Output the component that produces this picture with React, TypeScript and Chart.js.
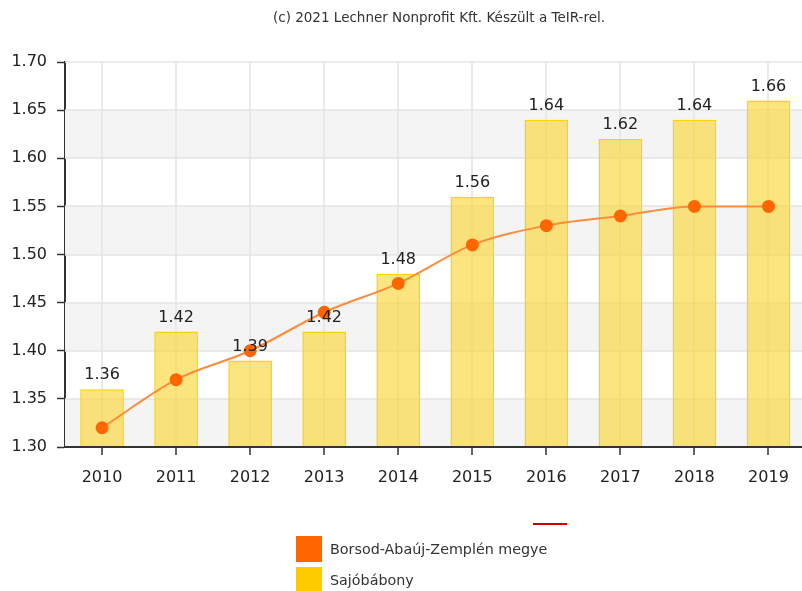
import React, { useEffect, useRef } from "react";
import { Chart, registerables } from "chart.js";

Chart.register(...registerables);

const categories = ["2010", "2011", "2012", "2013", "2014", "2015", "2016", "2017", "2018", "2019"];
const barValues = [1.36, 1.42, 1.39, 1.42, 1.48, 1.56, 1.64, 1.62, 1.64, 1.66];
const lineValues = [1.32, 1.37, 1.4, 1.44, 1.47, 1.51, 1.53, 1.54, 1.55, 1.55];
const barLabel = "Sajóbábony";
const lineLabel = "Borsod-Abaúj-Zemplén megye";
const titleText = "(c) 2021 Lechner Nonprofit Kft. Készült a TeIR-rel.";
const bandRanges = [[1.3, 1.35], [1.4, 1.45], [1.5, 1.55], [1.6, 1.65]];

const FONT = "'DejaVu Sans', Verdana, sans-serif";

const decorPlugin = {
  id: "decor",
  beforeDatasetsDraw(chart: any) {
    const { ctx, chartArea, scales } = chart;
    const y = scales.y;
    ctx.save();
    ctx.fillStyle = "#f4f4f4";
    for (const [a, b] of bandRanges) {
      const y1 = y.getPixelForValue(b);
      const y2 = y.getPixelForValue(a);
      ctx.fillRect(chartArea.left, y1, chartArea.right - chartArea.left, y2 - y1);
    }
    ctx.strokeStyle = "#e4e4e4";
    ctx.lineWidth = 1.5;
    y.ticks.forEach((t: any) => {
      const py = Math.round(y.getPixelForValue(t.value));
      if (py >= chartArea.bottom - 1) return;
      ctx.beginPath();
      ctx.moveTo(chartArea.left, py);
      ctx.lineTo(chartArea.right, py);
      ctx.stroke();
    });
    const x = scales.x;
    categories.forEach((_, i) => {
      const px = Math.round(x.getPixelForValue(i));
      ctx.beginPath();
      ctx.moveTo(px, chartArea.top);
      ctx.lineTo(px, chartArea.bottom - 1);
      ctx.stroke();
    });
    ctx.restore();
  },
  afterDatasetsDraw(chart: any) {
    const { ctx } = chart;
    const meta = chart.getDatasetMeta(0);
    ctx.save();
    ctx.font = `16px ${FONT}`;
    ctx.fillStyle = "#222";
    ctx.textAlign = "center";
    ctx.textBaseline = "bottom";
    meta.data.forEach((el: any, i: number) => {
      ctx.fillText(barValues[i].toFixed(2), el.x, el.y - 6);
    });
    ctx.restore();
  },
  afterDraw(chart: any) {
    const { ctx, chartArea, scales } = chart;
    ctx.save();
    ctx.strokeStyle = "#333";
    ctx.lineWidth = 2;
    ctx.beginPath();
    ctx.moveTo(chartArea.left - 1, chartArea.bottom);
    ctx.lineTo(chartArea.right, chartArea.bottom);
    ctx.stroke();
    ctx.lineWidth = 1.5;
    categories.forEach((_, i) => {
      const px = Math.round(scales.x.getPixelForValue(i));
      ctx.beginPath();
      ctx.moveTo(px, chartArea.bottom);
      ctx.lineTo(px, chartArea.bottom + 8);
      ctx.stroke();
    });

    ctx.font = `13.5px ${FONT}`;
    ctx.fillStyle = "#333";
    ctx.textAlign = "center";
    ctx.textBaseline = "middle";
    ctx.fillText(titleText, 439, 18);

    ctx.strokeStyle = "#cc0000";
    ctx.lineWidth = 2;
    ctx.beginPath();
    ctx.moveTo(533, 524);
    ctx.lineTo(567, 524);
    ctx.stroke();

    ctx.fillStyle = "#FF6600";
    ctx.fillRect(296, 536, 26, 26);
    ctx.fillStyle = "#FFCC00";
    ctx.fillRect(296, 567, 26, 26);

    ctx.font = `14.3px ${FONT}`;
    ctx.fillStyle = "#333";
    ctx.textAlign = "left";
    ctx.fillText(lineLabel, 330, 550);
    ctx.fillText(barLabel, 330, 581);
    ctx.restore();
  },
};

export default function App() {
  const ref = useRef<HTMLCanvasElement | null>(null);
  useEffect(() => {
    if (!ref.current) return;
    const chart = new Chart(ref.current, {
      type: "bar",
      data: {
        labels: categories,
        datasets: [
          {
            type: "bar",
            label: barLabel,
            data: barValues,
            backgroundColor: "rgba(250, 215, 60, 0.66)",
            borderColor: "#FFD200",
            borderWidth: 1.5,
            barPercentage: 0.59,
            categoryPercentage: 1,
            order: 2,
          },
          {
            type: "line",
            label: lineLabel,
            data: lineValues,
            borderColor: "#FF8C3A",
            borderWidth: 2,
            backgroundColor: "#FF6600",
            pointBackgroundColor: "#FF6600",
            pointBorderColor: "#FF6600",
            pointRadius: 5.5,
            cubicInterpolationMode: "monotone",
            fill: false,
            order: 1,
          },
        ],
      },
      options: {
        animation: false,
        responsive: false,
        maintainAspectRatio: false,
        layout: { padding: { top: 62, left: 0, right: 0, bottom: 104 } },
        plugins: {
          legend: { display: false },
          tooltip: { enabled: false },
          title: { display: false },
        },
        scales: {
          x: {
            grid: { display: false },
            border: { display: false },
            ticks: { font: { family: FONT, size: 16 }, color: "#222", padding: 13 },
            afterFit(scale: any) { scale.height = 40; },
          },
          y: {
            min: 1.3,
            max: 1.7,
            grid: { display: true, drawOnChartArea: false, tickLength: 8, tickColor: "#333", tickWidth: 1.5 },
            border: { color: "#333", width: 2 },
            ticks: {
              stepSize: 0.05,
              font: { family: FONT, size: 16 },
              color: "#222",
              padding: 10,
              callback: (v: any) => Number(v).toFixed(2),
            },
            afterFit(scale: any) { scale.width = 65; },
          },
        },
      },
      plugins: [decorPlugin],
    });
    return () => chart.destroy();
  }, []);
  return (
    <div style={{ position: "fixed", left: 0, top: 0, width: 802, height: 591, overflow: "hidden", background: "#fff" }}>
      <canvas ref={ref} width={813} height={591} style={{ width: 813, height: 591, display: "block" }} />
    </div>
  );
}
